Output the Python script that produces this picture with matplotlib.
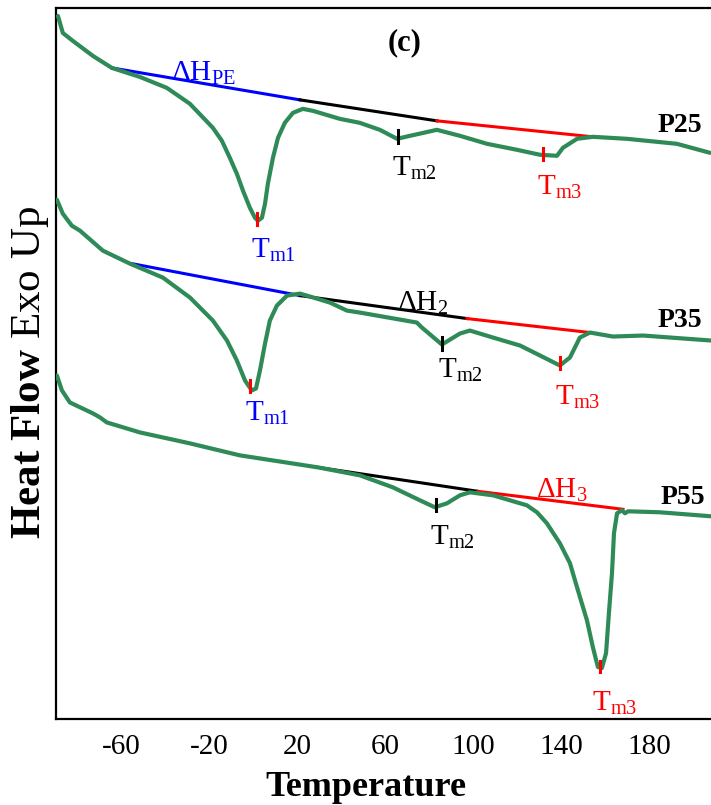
import matplotlib
matplotlib.use("Agg")
import matplotlib.pyplot as plt

plt.rcParams['font.family'] = ['Liberation Serif', 'DejaVu Serif']
plt.rcParams['mathtext.fontset'] = 'custom'
plt.rcParams['mathtext.rm'] = 'Liberation Serif'
plt.rcParams['mathtext.it'] = 'Liberation Serif:italic'
plt.rcParams['mathtext.bf'] = 'Liberation Serif:bold'
plt.rcParams['axes.unicode_minus'] = False

# DSC traces (temperature in C, heat flow in arbitrary units)
t_p25 = [-88.6, -86.4, -81.8, -72.7, -64.1, -51.4, -39.1, -28.6, -18.2, -14.1, -10.5, -7.3, -4.5,
         -1.4, 0.9, 2.3, 4.1, 5.5, 6.8, 9.1, 11.4, 14.5, 18.2, 22.7, 27.3, 39.5, 48.6, 57.7, 65.5,
         71.4, 83.6, 94.1, 106.4, 120.0, 130.5, 138.2, 140.9, 147.3, 154.5, 170.0, 192.7, 207.7]
hf_p25 = [70.4, 68.7, 67.9, 66.4, 65.2, 64.3, 63.2, 61.6, 59.2, 57.9, 56.2, 54.6, 52.9,
          51.2, 50.2, 49.9, 50.2, 51.6, 53.6, 56.2, 58.2, 59.7, 60.7, 61.1, 60.9, 60.1, 59.7, 59.0, 58.1,
          58.4, 59.0, 58.4, 57.6, 57.0, 56.5, 56.4, 57.2, 58.1, 58.3, 58.1, 57.6, 56.7]

t_p35 = [-89.1, -86.4, -82.3, -78.6, -68.2, -55.9, -40.9, -28.6, -18.2, -11.8, -7.3, -3.6, -0.5,
         1.4, 3.2, 5.5, 7.7, 10.9, 15.5, 21.4, 24.5, 35.0, 42.7, 48.6, 74.5, 76.8, 85.9, 94.1,
         98.6, 109.1, 121.4, 130.5, 139.5, 144.1, 148.6, 153.2, 163.6, 177.3, 208.2]
hf_p35 = [52.0, 50.6, 49.4, 48.9, 46.9, 45.6, 44.2, 42.2, 39.9, 37.9, 35.9, 33.9, 32.9,
          33.1, 34.9, 37.6, 39.9, 41.4, 42.4, 42.6, 42.4, 41.7, 40.9, 40.7, 39.7, 39.2, 37.5, 38.6,
          38.9, 38.2, 37.4, 36.4, 35.4, 36.2, 38.2, 38.7, 38.3, 38.4, 37.9]

t_p55 = [-89.1, -86.8, -83.2, -72.7, -69.5, -66.4, -51.4, -28.6, -5.9, 29.5, 48.6, 63.6, 75.9,
         82.7, 88.2, 94.1, 98.6, 109.1, 124.5, 129.1, 133.6, 139.5, 144.1, 147.7, 151.8, 154.5,
         156.8, 158.6, 160.5, 161.8, 163.2, 164.1, 165.5, 167.7, 169.1, 170.5, 185.0, 208.2]
hf_p55 = [34.4, 32.9, 31.7, 30.6, 30.2, 29.7, 28.7, 27.6, 26.4, 25.2, 24.4, 23.2, 21.9,
          21.2, 21.6, 22.4, 22.7, 22.4, 21.4, 20.7, 19.6, 17.6, 15.6, 12.9, 9.9, 7.2,
          5.2, 5.1, 6.6, 10.6, 14.6, 18.6, 20.6, 20.9, 20.6, 20.8, 20.7, 20.3]

# integration baselines: (T start, hf start, T end, hf end, colour)
baselines = [
    (-64.1, 65.2, 21.4, 62.0, 'blue'),
    (21.4, 62.0, 83.6, 59.9, 'black'),
    (83.6, 59.9, 154.5, 58.3, 'red'),
    (-55.0, 45.6, 21.4, 42.4, 'blue'),
    (21.4, 42.4, 97.3, 40.1, 'black'),
    (97.3, 40.1, 153.2, 38.7, 'red'),
    (29.5, 25.2, 102.3, 22.8, 'black'),
    (102.3, 22.8, 168.2, 21.0, 'red'),
]

# peak markers: (T, hf top, hf bottom, colour)
peak_marks = [
    (1.8, 50.7, 49.5, 'red'), (65.9, 59.0, 57.7, 'black'), (131.8, 57.2, 56.0, 'red'),
    (-1.4, 33.9, 32.7, 'red'), (85.9, 38.3, 37.0, 'black'), (139.5, 36.3, 35.0, 'red'),
    (83.2, 22.0, 20.8, 'black'), (157.7, 5.8, 4.7, 'red'),
]

# annotation texts: (T, hf, text, colour)
notes = [
    (-22.7, 64.7, r'$\mathrm{\Delta H_{PE}}$', 'blue'),
    (9.1, 46.9, r'$\mathrm{T_{m1}}$', 'blue'),
    (73.6, 55.1, r'$\mathrm{T_{m2}}$', 'black'),
    (139.5, 53.2, r'$\mathrm{T_{m3}}$', 'red'),
    (6.8, 30.6, r'$\mathrm{T_{m1}}$', 'blue'),
    (77.3, 41.6, r'$\mathrm{\Delta H_{2}}$', 'black'),
    (94.1, 34.9, r'$\mathrm{T_{m2}}$', 'black'),
    (147.7, 32.2, r'$\mathrm{T_{m3}}$', 'red'),
    (140.5, 22.9, r'$\mathrm{\Delta H_{3}}$', 'red'),
    (90.9, 18.2, r'$\mathrm{T_{m2}}$', 'black'),
    (164.5, 1.6, r'$\mathrm{T_{m3}}$', 'red'),
]

samples = [(194.0, 59.4, 'P25'), (194.0, 39.9, 'P35'), (195.5, 22.2, 'P55')]

fig = plt.figure(figsize=(7.11, 8.05), dpi=100)
ax = fig.add_axes([56 / 711, 86 / 805, 655 / 711, 711 / 805])

green = '#2e8b57'
for b in baselines:
    ax.plot([b[0], b[2]], [b[1], b[3]], color=b[4], lw=2.2, zorder=2)
for t, hf in [(t_p25, hf_p25), (t_p35, hf_p35), (t_p55, hf_p55)]:
    ax.plot(t, hf, color=green, lw=3, solid_joinstyle='round', solid_capstyle='round', zorder=3)
for m in peak_marks:
    ax.plot([m[0], m[0]], [m[1], m[2]], color=m[3], lw=2.2, zorder=4)
for n in notes:
    ax.text(n[0], n[1], n[2], color=n[3], fontsize=21, ha='center', va='center')
for s in samples:
    ax.text(s[0], s[1], s[2], fontsize=20, fontweight='bold', ha='center', va='center')
ax.text(69.1, 67.7, '(c)', fontsize=22, fontweight='bold', ha='center', va='center')

ax.set_xlim(-89.5, 208.2)
ax.set_ylim(0, 71.2)
ax.set_xticks([-60, -20, 20, 60, 100, 140, 180])
ax.set_yticks([])
ax.tick_params(axis='x', length=0, pad=11, labelsize=21)
ax.spines['right'].set_visible(False)
for sp in ['left', 'top', 'bottom']:
    ax.spines[sp].set_linewidth(1.6)

fig.text(366 / 711, 1 - 787 / 805, 'Temperature', fontsize=26,
         fontweight='bold', ha='center', va='center')
fig.text(30 / 711, 1 - 372 / 805, r'$\mathbf{Heat\ Flow}$ Exo Up', fontsize=31,
         rotation=90, ha='center', va='center')

fig.savefig('out.png', dpi=100)
